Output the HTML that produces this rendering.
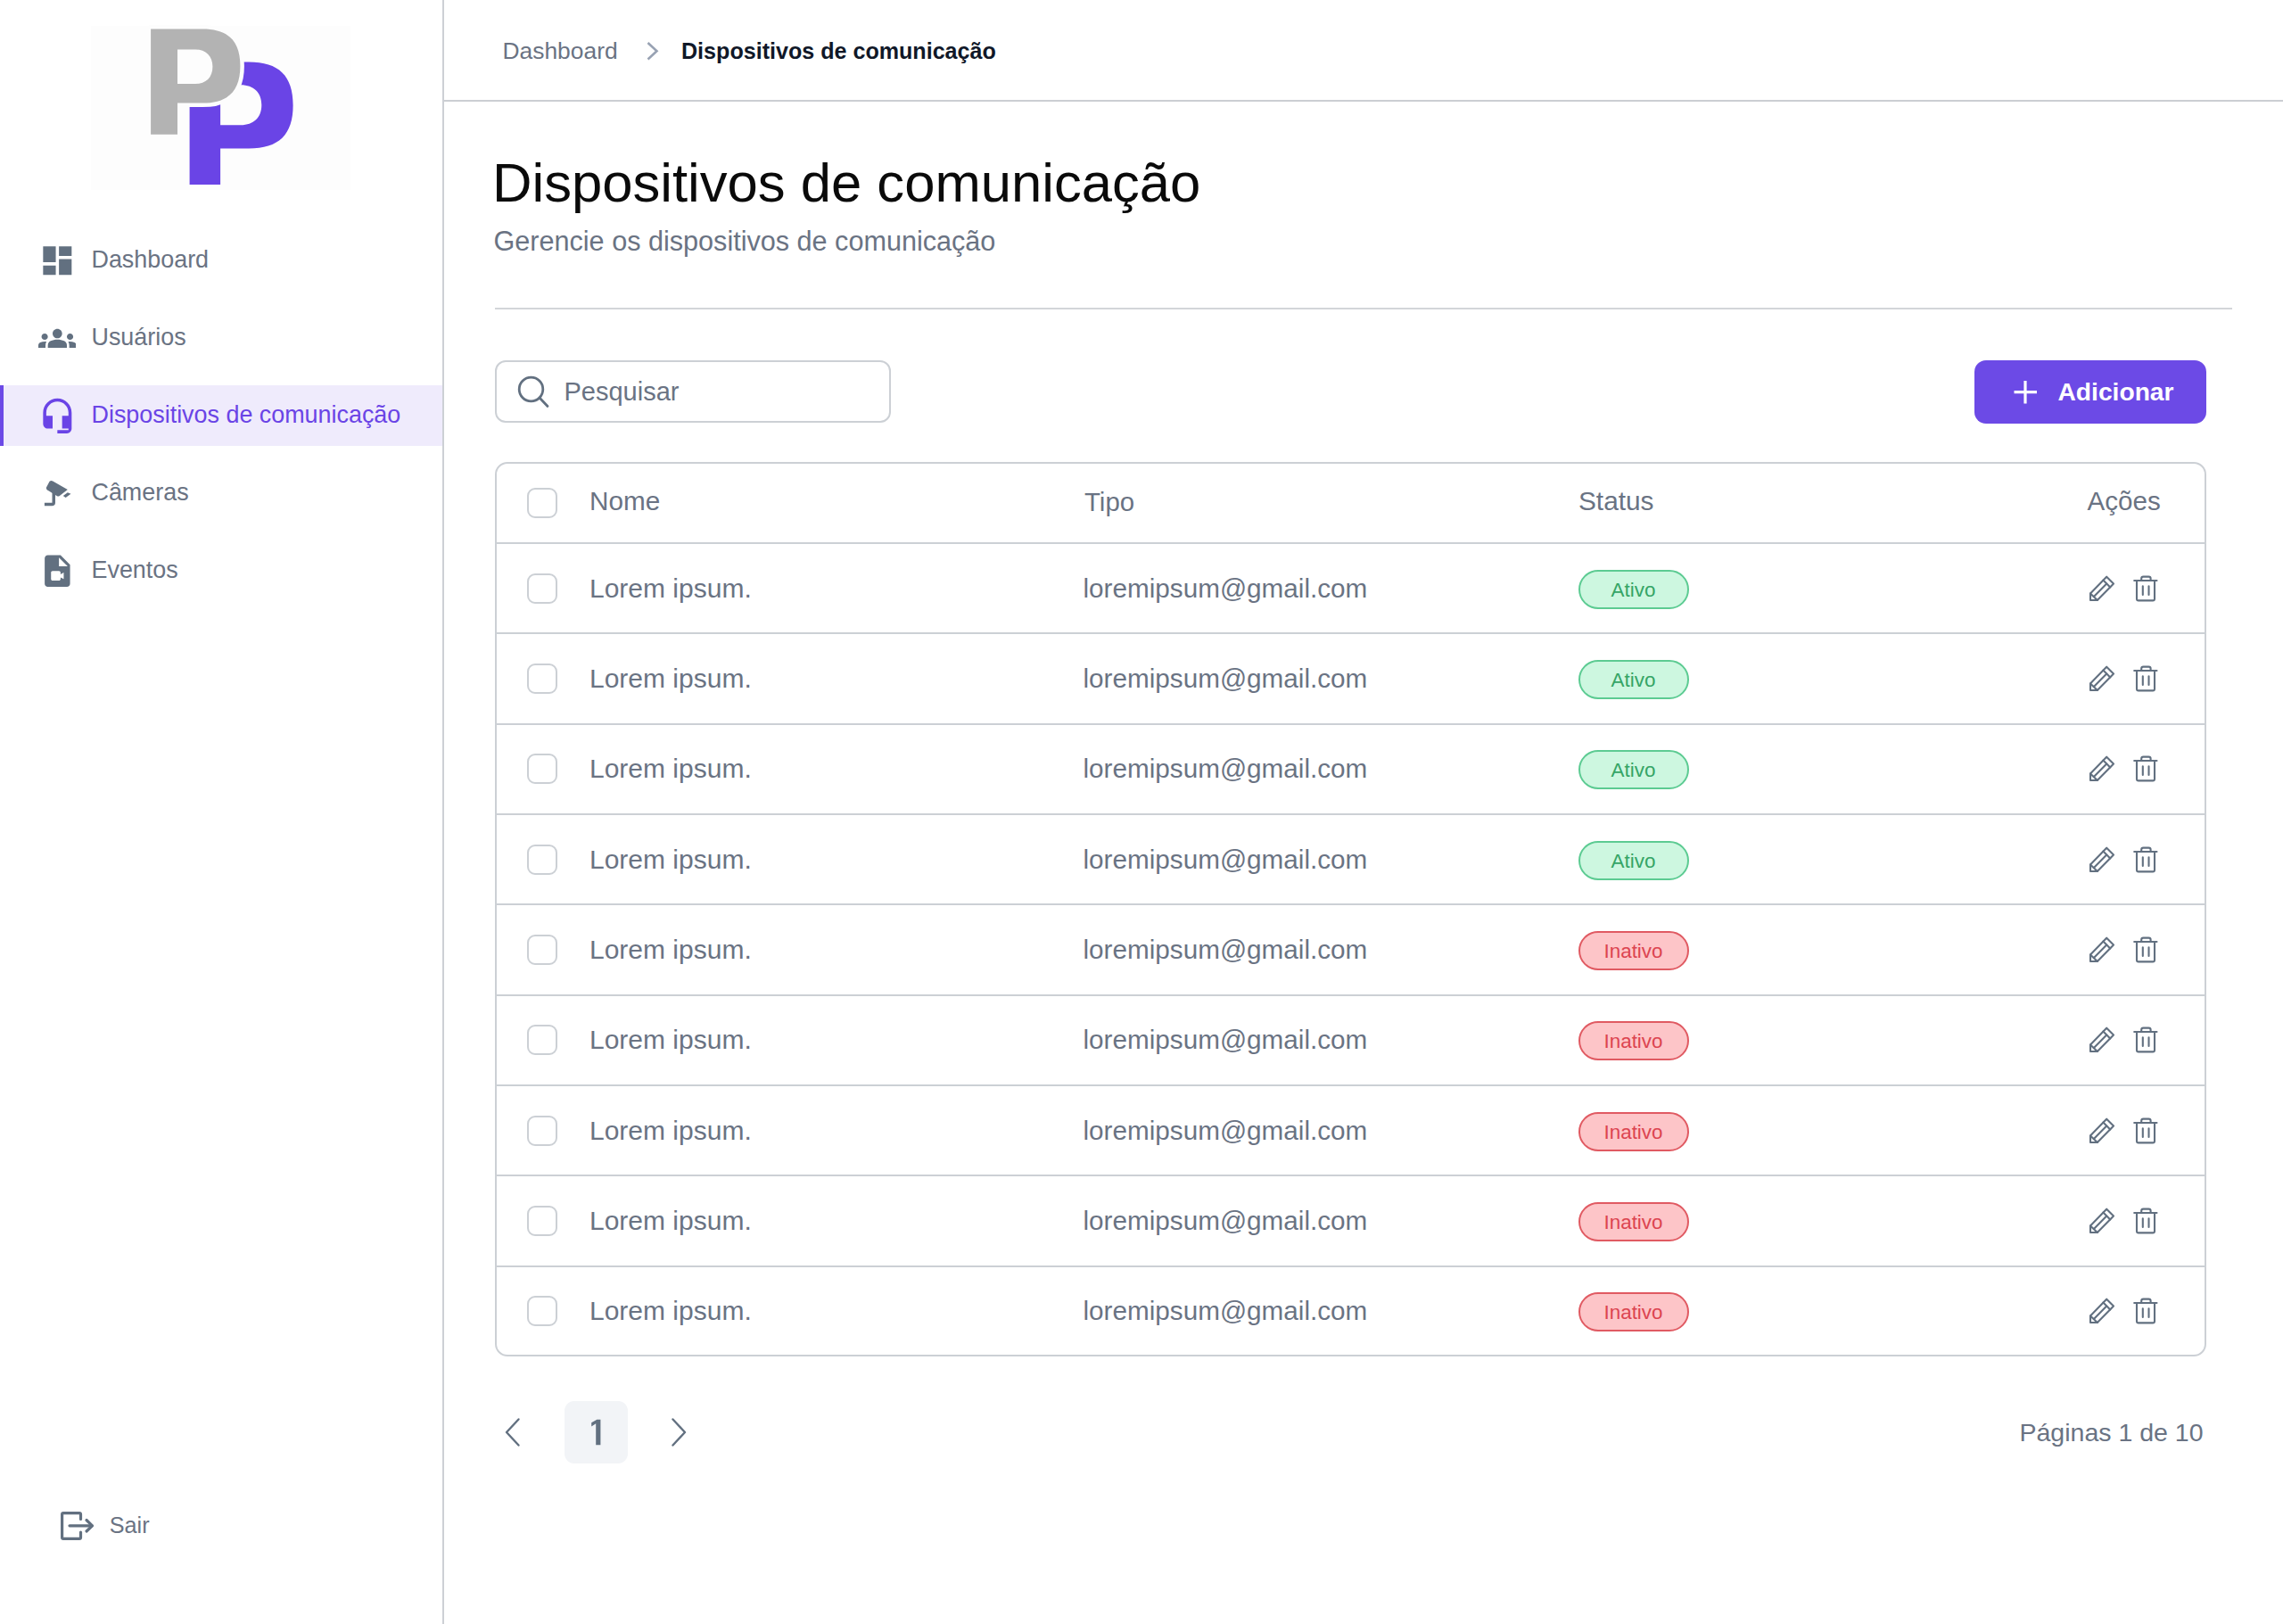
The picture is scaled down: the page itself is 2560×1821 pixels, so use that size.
<!DOCTYPE html>
<html><head><meta charset="utf-8"><title>Dispositivos de comunicação</title>
<style>
html,body{margin:0;padding:0;background:#ffffff;}
body{width:2560px;height:1821px;position:relative;overflow:hidden;font-family:'Liberation Sans', sans-serif;}
.t{position:absolute;white-space:nowrap;line-height:1;font-family:'Liberation Sans', sans-serif;}
svg{display:block}
</style></head><body>
<div style="position:absolute;left:496px;top:0;width:2px;height:1821px;background:#cdd0d5"></div>
<svg style="position:absolute;left:0;top:0" width="496" height="240" viewBox="0 0 496 240">
<rect x="102" y="29" width="291" height="184" fill="#fdfdfd"/>
<path d="M212.6 69.4 H279.0 C312.7 69.4 328.6 84.9 328.6 118.0 C328.6 151.0 312.7 166.5 279.0 166.5 H247.1 V206.9 H212.6 Z M247.1 95.2 H270.0 C284.4 95.2 293.3 103.8 293.3 117.7 C293.3 131.6 284.4 140.2 270.0 140.2 H247.1 Z" fill="#6a44e6" fill-rule="evenodd"/>
<path d="M169.1 32.6 H227.0 C255.8 32.6 269.4 45.9 269.4 74.1 C269.4 102.3 255.8 115.6 227.0 115.6 H199 V150.7 H169.1 Z" fill="#fdfdfd" stroke="#fdfdfd" stroke-width="9" stroke-linejoin="round"/>
<path d="M169.1 32.6 H227.0 C255.8 32.6 269.4 45.9 269.4 74.1 C269.4 102.3 255.8 115.6 227.0 115.6 H199 V150.7 H169.1 Z M199 55.4 H219.0 C231.0 55.4 238.4 62.7 238.4 74.7 C238.4 86.7 231.0 94.0 219.0 94.0 H199 Z" fill="#b3b3b3" fill-rule="evenodd"/>
</svg>
<div style="position:absolute;left:0;top:432px;width:496px;height:68px;background:#efebfc"></div>
<div style="position:absolute;left:0;top:432px;width:4px;height:68px;background:#6c4ae6"></div>
<svg style="position:absolute;left:42.67px;top:270.67px" width="42.67" height="42.67" viewBox="0 0 24 24" fill="#627080"><path d="M3 13h8V3H3v10zm0 8h8v-6H3v6zm10 0h8V11h-8v10zm0-18v6h8V3h-8z"/></svg>
<div class="t" style="left:102.5px;top:277.63px;font-size:26.9px;color:#6a7383;font-weight:400;">Dashboard</div>
<svg style="position:absolute;left:42.67px;top:357.77px" width="42.67" height="42.67" viewBox="0 0 24 24" fill="#627080"><path d="M12 12.75c1.63 0 3.07.39 4.24.9 1.08.48 1.76 1.56 1.76 2.73V18H6v-1.61c0-1.18.68-2.26 1.76-2.73 1.17-.52 2.61-.91 4.24-.91zM4 13c1.1 0 2-.9 2-2s-.9-2-2-2-2 .9-2 2 .9 2 2 2zm1.13 1.1c-.37-.06-.74-.1-1.13-.1-.99 0-1.930.21-2.78.58C.48 14.9 0 15.62 0 16.43V18h4.5v-1.61c0-.83.23-1.61.63-2.29zM20 13c1.1 0 2-.9 2-2s-.9-2-2-2-2 .9-2 2 .9 2 2 2zm4 3.430c0-.81-.48-1.53-1.22-1.85-.85-.37-1.79-.58-2.78-.58-.39 0-.76.04-1.13.1.4.68.63 1.46.63 2.29V18H24v-1.57zM12 6c1.66 0 3 1.34 3 3s-1.34 3-3 3-3-1.34-3-3 1.34-3 3-3z"/></svg>
<div class="t" style="left:102.5px;top:364.74px;font-size:26.9px;color:#6a7383;font-weight:400;">Usuários</div>
<svg style="position:absolute;left:42.67px;top:444.87px" width="42.67" height="42.67" viewBox="0 0 24 24" fill="#6a44e6"><path d="M12 1c-4.97 0-9 4.03-9 9v7c0 1.66 1.34 3 3 3h3v-8H5v-2c0-3.870 3.13-7 7-7s7 3.13 7 7v2h-4v8h4v1h-7v2h6c1.66 0 3-1.34 3-3V10c0-4.97-4.03-9-9-9z"/></svg>
<div class="t" style="left:102.5px;top:451.83px;font-size:26.9px;color:#6a44e6;font-weight:400;">Dispositivos de comunicação</div>
<svg style="position:absolute;left:44px;top:532px" width="42" height="40" viewBox="44 532 42 40"><g fill="#627080"><path d="M55.6 539.8 Q57.2 538.4 59.2 539.4 L75.8 549 L66.8 556 Q65.4 557 64 556.2 L53.2 549.6 Q51.2 548.2 52 546.4 Z"/><path d="M70.8 556.1 L75.8 552.2 L79.5 553.7 L73.6 557.9 Z"/></g><path d="M60.25 552 V563.5 Q60.25 565.5 58.25 565.5 H49.9" stroke="#627080" stroke-width="3.5" fill="none"/></svg>
<div class="t" style="left:102.5px;top:538.93px;font-size:26.9px;color:#6a7383;font-weight:400;">Câmeras</div>
<svg style="position:absolute;left:42.67px;top:619.07px" width="42.67" height="42.67" viewBox="0 0 24 24" fill="#627080"><path d="M14 2H6.01c-1.1 0-2 .89-2 2L4 20c0 1.1.89 2 1.99 2H18c1.1 0 2-.9 2-2V8l-6-6zM13 9V3.5L18.5 9H13zm1 5l2-1.06v4.12L14 16v1c0 .55-.45 1-1 1H9c-.55 0-1-.45-1-1v-4c0-.55.45-1 1-1h4c.55 0 1 .45 1 1v1z"/></svg>
<div class="t" style="left:102.5px;top:626.03px;font-size:26.9px;color:#6a7383;font-weight:400;">Eventos</div>
<svg style="position:absolute;left:66px;top:1693px" width="42" height="36" viewBox="0 0 42 36"><g fill="none" stroke="#627080" stroke-width="3.2" stroke-linecap="round" stroke-linejoin="round"><path d="M24.5 10.5 V5 Q24.5 3.6 23 3.6 H5 Q3.6 3.6 3.6 5 V31 Q3.6 32.4 5 32.4 H23 Q24.5 32.4 24.5 31 V25"/><path d="M12 17.8 H37"/><path d="M31 11.5 L37.5 17.8 L31 24"/></g></svg>
<div class="t" style="left:122.8px;top:1698.18px;font-size:25.2px;color:#6a7383;font-weight:400;">Sair</div>
<div style="position:absolute;left:498px;top:112px;width:2062px;height:2px;background:#cbced3"></div>
<div class="t" style="left:563.5px;top:44.06px;font-size:26.4px;color:#6a7383;font-weight:400;">Dashboard</div>
<svg style="position:absolute;left:720px;top:44px" width="24" height="26" viewBox="0 0 24 26"><path d="M6.5 4 L16.5 13.2 L6.5 22.5" fill="none" stroke="#98a2b3" stroke-width="2.6"/></svg>
<div class="t" style="left:764px;top:45.16px;font-size:25.1px;color:#101828;font-weight:700;">Dispositivos de comunicação</div>
<div class="t" style="left:552px;top:174.14px;font-size:61.6px;color:#0a0a0a;font-weight:400;">Dispositivos de comunicação</div>
<div class="t" style="left:553.5px;top:254.59px;font-size:30.6px;color:#6a7383;font-weight:400;">Gerencie os dispositivos de comunicação</div>
<div style="position:absolute;left:555px;top:345px;width:1948px;height:2px;background:#d3d5d9"></div>
<div style="position:absolute;left:555px;top:404px;width:444px;height:70px;box-sizing:border-box;border:2px solid #ccd0d5;border-radius:12px"></div>
<svg style="position:absolute;left:576px;top:418px" width="44" height="44" viewBox="0 0 44 44"><g fill="none" stroke="#627080" stroke-width="2.8"><circle cx="19.5" cy="18.5" r="13.3"/><path d="M29 28 L38 37.5" stroke-linecap="round"/></g></svg>
<div class="t" style="left:632.5px;top:425.35px;font-size:29px;color:#6a7383;font-weight:400;">Pesquisar</div>
<div style="position:absolute;left:2214px;top:404px;width:260px;height:71px;border-radius:13px;background:#6c4ae6"></div>
<svg style="position:absolute;left:2256px;top:425px" width="30" height="30" viewBox="0 0 30 30"><path d="M15 2 V27.5 M2.5 14.7 H28" stroke="#fff" stroke-width="3.2" fill="none"/></svg>
<div class="t" style="left:2307.5px;top:425.03px;font-size:28.2px;color:#ffffff;font-weight:700;">Adicionar</div>
<div style="position:absolute;left:555px;top:518px;width:1919px;height:1003px;box-sizing:border-box;border:2px solid #ccd0d5;border-radius:14px"></div>
<div style="position:absolute;left:591px;top:546.50px;width:34px;height:34px;box-sizing:border-box;border:2px solid #ccd0d5;border-radius:9px"></div>
<div class="t" style="left:661px;top:547.25px;font-size:29.7px;color:#6a7383;font-weight:400;">Nome</div>
<div class="t" style="left:1216px;top:547.51px;font-size:29.4px;color:#6a7383;font-weight:400;">Tipo</div>
<div class="t" style="left:1770px;top:547.17px;font-size:29.8px;color:#6a7383;font-weight:400;">Status</div>
<div class="t" style="left:2340.5px;top:547.34px;font-size:29.6px;color:#6a7383;font-weight:400;">Ações</div>
<div style="position:absolute;left:557px;top:608.00px;width:1915px;height:2px;background:#ccd0d5"></div>
<div style="position:absolute;left:591px;top:642.67px;width:34px;height:34px;box-sizing:border-box;border:2px solid #ccd0d5;border-radius:9px"></div>
<div class="t" style="left:661px;top:644.57px;font-size:30px;color:#6a7383;font-weight:400;">Lorem ipsum.</div>
<div class="t" style="left:1214.5px;top:644.82px;font-size:29.7px;color:#6a7383;font-weight:400;">loremipsum@gmail.com</div>
<div style="position:absolute;left:1769.5px;top:638.67px;width:124px;height:44px;box-sizing:border-box;border:2px solid #5ccb92;border-radius:22px;background:#cdf7e0;color:#35a566;font-family:'Liberation Sans', sans-serif;font-size:22.4px;line-height:42px;text-align:center">Ativo</div>
<svg style="position:absolute;left:2330px;top:639.67px" width="100" height="40" viewBox="2330 -20 100 40"><g fill="none" stroke="#627080" stroke-width="2.1" stroke-linejoin="round" stroke-linecap="round"><path d="M2344 5.4 V13 H2351.8 L2370 -5.5 L2362.2 -13.3 Z"/><path d="M2358.4 -9.4 L2366.2 -1.6"/><path d="M2362.2 -5.5 L2347.9 8.9"/><path d="M2344 5.4 L2351.8 13"/><path d="M2393.2 -9 H2418.5"/><path d="M2401.2 -9 V-11.2 Q2401.2 -13.4 2403.4 -13.4 H2409.4 Q2411.6 -13.4 2411.6 -11.2 V-9"/><path d="M2396 -9 V11.4 Q2396 13.4 2398 13.4 H2414 Q2416 13.4 2416 11.4 V-9"/><path d="M2402.8 -2.8 V6.9 M2409.5 -2.8 V6.9"/></g></svg>
<div style="position:absolute;left:557px;top:709.33px;width:1915px;height:2px;background:#ccd0d5"></div>
<div style="position:absolute;left:591px;top:744.00px;width:34px;height:34px;box-sizing:border-box;border:2px solid #ccd0d5;border-radius:9px"></div>
<div class="t" style="left:661px;top:745.90px;font-size:30px;color:#6a7383;font-weight:400;">Lorem ipsum.</div>
<div class="t" style="left:1214.5px;top:746.15px;font-size:29.7px;color:#6a7383;font-weight:400;">loremipsum@gmail.com</div>
<div style="position:absolute;left:1769.5px;top:740.00px;width:124px;height:44px;box-sizing:border-box;border:2px solid #5ccb92;border-radius:22px;background:#cdf7e0;color:#35a566;font-family:'Liberation Sans', sans-serif;font-size:22.4px;line-height:42px;text-align:center">Ativo</div>
<svg style="position:absolute;left:2330px;top:741.00px" width="100" height="40" viewBox="2330 -20 100 40"><g fill="none" stroke="#627080" stroke-width="2.1" stroke-linejoin="round" stroke-linecap="round"><path d="M2344 5.4 V13 H2351.8 L2370 -5.5 L2362.2 -13.3 Z"/><path d="M2358.4 -9.4 L2366.2 -1.6"/><path d="M2362.2 -5.5 L2347.9 8.9"/><path d="M2344 5.4 L2351.8 13"/><path d="M2393.2 -9 H2418.5"/><path d="M2401.2 -9 V-11.2 Q2401.2 -13.4 2403.4 -13.4 H2409.4 Q2411.6 -13.4 2411.6 -11.2 V-9"/><path d="M2396 -9 V11.4 Q2396 13.4 2398 13.4 H2414 Q2416 13.4 2416 11.4 V-9"/><path d="M2402.8 -2.8 V6.9 M2409.5 -2.8 V6.9"/></g></svg>
<div style="position:absolute;left:557px;top:810.66px;width:1915px;height:2px;background:#ccd0d5"></div>
<div style="position:absolute;left:591px;top:845.33px;width:34px;height:34px;box-sizing:border-box;border:2px solid #ccd0d5;border-radius:9px"></div>
<div class="t" style="left:661px;top:847.23px;font-size:30px;color:#6a7383;font-weight:400;">Lorem ipsum.</div>
<div class="t" style="left:1214.5px;top:847.48px;font-size:29.7px;color:#6a7383;font-weight:400;">loremipsum@gmail.com</div>
<div style="position:absolute;left:1769.5px;top:841.33px;width:124px;height:44px;box-sizing:border-box;border:2px solid #5ccb92;border-radius:22px;background:#cdf7e0;color:#35a566;font-family:'Liberation Sans', sans-serif;font-size:22.4px;line-height:42px;text-align:center">Ativo</div>
<svg style="position:absolute;left:2330px;top:842.33px" width="100" height="40" viewBox="2330 -20 100 40"><g fill="none" stroke="#627080" stroke-width="2.1" stroke-linejoin="round" stroke-linecap="round"><path d="M2344 5.4 V13 H2351.8 L2370 -5.5 L2362.2 -13.3 Z"/><path d="M2358.4 -9.4 L2366.2 -1.6"/><path d="M2362.2 -5.5 L2347.9 8.9"/><path d="M2344 5.4 L2351.8 13"/><path d="M2393.2 -9 H2418.5"/><path d="M2401.2 -9 V-11.2 Q2401.2 -13.4 2403.4 -13.4 H2409.4 Q2411.6 -13.4 2411.6 -11.2 V-9"/><path d="M2396 -9 V11.4 Q2396 13.4 2398 13.4 H2414 Q2416 13.4 2416 11.4 V-9"/><path d="M2402.8 -2.8 V6.9 M2409.5 -2.8 V6.9"/></g></svg>
<div style="position:absolute;left:557px;top:911.99px;width:1915px;height:2px;background:#ccd0d5"></div>
<div style="position:absolute;left:591px;top:946.66px;width:34px;height:34px;box-sizing:border-box;border:2px solid #ccd0d5;border-radius:9px"></div>
<div class="t" style="left:661px;top:948.56px;font-size:30px;color:#6a7383;font-weight:400;">Lorem ipsum.</div>
<div class="t" style="left:1214.5px;top:948.81px;font-size:29.7px;color:#6a7383;font-weight:400;">loremipsum@gmail.com</div>
<div style="position:absolute;left:1769.5px;top:942.66px;width:124px;height:44px;box-sizing:border-box;border:2px solid #5ccb92;border-radius:22px;background:#cdf7e0;color:#35a566;font-family:'Liberation Sans', sans-serif;font-size:22.4px;line-height:42px;text-align:center">Ativo</div>
<svg style="position:absolute;left:2330px;top:943.66px" width="100" height="40" viewBox="2330 -20 100 40"><g fill="none" stroke="#627080" stroke-width="2.1" stroke-linejoin="round" stroke-linecap="round"><path d="M2344 5.4 V13 H2351.8 L2370 -5.5 L2362.2 -13.3 Z"/><path d="M2358.4 -9.4 L2366.2 -1.6"/><path d="M2362.2 -5.5 L2347.9 8.9"/><path d="M2344 5.4 L2351.8 13"/><path d="M2393.2 -9 H2418.5"/><path d="M2401.2 -9 V-11.2 Q2401.2 -13.4 2403.4 -13.4 H2409.4 Q2411.6 -13.4 2411.6 -11.2 V-9"/><path d="M2396 -9 V11.4 Q2396 13.4 2398 13.4 H2414 Q2416 13.4 2416 11.4 V-9"/><path d="M2402.8 -2.8 V6.9 M2409.5 -2.8 V6.9"/></g></svg>
<div style="position:absolute;left:557px;top:1013.32px;width:1915px;height:2px;background:#ccd0d5"></div>
<div style="position:absolute;left:591px;top:1047.99px;width:34px;height:34px;box-sizing:border-box;border:2px solid #ccd0d5;border-radius:9px"></div>
<div class="t" style="left:661px;top:1049.89px;font-size:30px;color:#6a7383;font-weight:400;">Lorem ipsum.</div>
<div class="t" style="left:1214.5px;top:1050.15px;font-size:29.7px;color:#6a7383;font-weight:400;">loremipsum@gmail.com</div>
<div style="position:absolute;left:1769.5px;top:1043.99px;width:124px;height:44px;box-sizing:border-box;border:2px solid #e05a62;border-radius:22px;background:#fdc5c8;color:#dc4450;font-family:'Liberation Sans', sans-serif;font-size:22.4px;line-height:42px;text-align:center">Inativo</div>
<svg style="position:absolute;left:2330px;top:1044.99px" width="100" height="40" viewBox="2330 -20 100 40"><g fill="none" stroke="#627080" stroke-width="2.1" stroke-linejoin="round" stroke-linecap="round"><path d="M2344 5.4 V13 H2351.8 L2370 -5.5 L2362.2 -13.3 Z"/><path d="M2358.4 -9.4 L2366.2 -1.6"/><path d="M2362.2 -5.5 L2347.9 8.9"/><path d="M2344 5.4 L2351.8 13"/><path d="M2393.2 -9 H2418.5"/><path d="M2401.2 -9 V-11.2 Q2401.2 -13.4 2403.4 -13.4 H2409.4 Q2411.6 -13.4 2411.6 -11.2 V-9"/><path d="M2396 -9 V11.4 Q2396 13.4 2398 13.4 H2414 Q2416 13.4 2416 11.4 V-9"/><path d="M2402.8 -2.8 V6.9 M2409.5 -2.8 V6.9"/></g></svg>
<div style="position:absolute;left:557px;top:1114.65px;width:1915px;height:2px;background:#ccd0d5"></div>
<div style="position:absolute;left:591px;top:1149.32px;width:34px;height:34px;box-sizing:border-box;border:2px solid #ccd0d5;border-radius:9px"></div>
<div class="t" style="left:661px;top:1151.22px;font-size:30px;color:#6a7383;font-weight:400;">Lorem ipsum.</div>
<div class="t" style="left:1214.5px;top:1151.48px;font-size:29.7px;color:#6a7383;font-weight:400;">loremipsum@gmail.com</div>
<div style="position:absolute;left:1769.5px;top:1145.32px;width:124px;height:44px;box-sizing:border-box;border:2px solid #e05a62;border-radius:22px;background:#fdc5c8;color:#dc4450;font-family:'Liberation Sans', sans-serif;font-size:22.4px;line-height:42px;text-align:center">Inativo</div>
<svg style="position:absolute;left:2330px;top:1146.32px" width="100" height="40" viewBox="2330 -20 100 40"><g fill="none" stroke="#627080" stroke-width="2.1" stroke-linejoin="round" stroke-linecap="round"><path d="M2344 5.4 V13 H2351.8 L2370 -5.5 L2362.2 -13.3 Z"/><path d="M2358.4 -9.4 L2366.2 -1.6"/><path d="M2362.2 -5.5 L2347.9 8.9"/><path d="M2344 5.4 L2351.8 13"/><path d="M2393.2 -9 H2418.5"/><path d="M2401.2 -9 V-11.2 Q2401.2 -13.4 2403.4 -13.4 H2409.4 Q2411.6 -13.4 2411.6 -11.2 V-9"/><path d="M2396 -9 V11.4 Q2396 13.4 2398 13.4 H2414 Q2416 13.4 2416 11.4 V-9"/><path d="M2402.8 -2.8 V6.9 M2409.5 -2.8 V6.9"/></g></svg>
<div style="position:absolute;left:557px;top:1215.98px;width:1915px;height:2px;background:#ccd0d5"></div>
<div style="position:absolute;left:591px;top:1250.65px;width:34px;height:34px;box-sizing:border-box;border:2px solid #ccd0d5;border-radius:9px"></div>
<div class="t" style="left:661px;top:1252.55px;font-size:30px;color:#6a7383;font-weight:400;">Lorem ipsum.</div>
<div class="t" style="left:1214.5px;top:1252.81px;font-size:29.7px;color:#6a7383;font-weight:400;">loremipsum@gmail.com</div>
<div style="position:absolute;left:1769.5px;top:1246.65px;width:124px;height:44px;box-sizing:border-box;border:2px solid #e05a62;border-radius:22px;background:#fdc5c8;color:#dc4450;font-family:'Liberation Sans', sans-serif;font-size:22.4px;line-height:42px;text-align:center">Inativo</div>
<svg style="position:absolute;left:2330px;top:1247.65px" width="100" height="40" viewBox="2330 -20 100 40"><g fill="none" stroke="#627080" stroke-width="2.1" stroke-linejoin="round" stroke-linecap="round"><path d="M2344 5.4 V13 H2351.8 L2370 -5.5 L2362.2 -13.3 Z"/><path d="M2358.4 -9.4 L2366.2 -1.6"/><path d="M2362.2 -5.5 L2347.9 8.9"/><path d="M2344 5.4 L2351.8 13"/><path d="M2393.2 -9 H2418.5"/><path d="M2401.2 -9 V-11.2 Q2401.2 -13.4 2403.4 -13.4 H2409.4 Q2411.6 -13.4 2411.6 -11.2 V-9"/><path d="M2396 -9 V11.4 Q2396 13.4 2398 13.4 H2414 Q2416 13.4 2416 11.4 V-9"/><path d="M2402.8 -2.8 V6.9 M2409.5 -2.8 V6.9"/></g></svg>
<div style="position:absolute;left:557px;top:1317.31px;width:1915px;height:2px;background:#ccd0d5"></div>
<div style="position:absolute;left:591px;top:1351.98px;width:34px;height:34px;box-sizing:border-box;border:2px solid #ccd0d5;border-radius:9px"></div>
<div class="t" style="left:661px;top:1353.88px;font-size:30px;color:#6a7383;font-weight:400;">Lorem ipsum.</div>
<div class="t" style="left:1214.5px;top:1354.14px;font-size:29.7px;color:#6a7383;font-weight:400;">loremipsum@gmail.com</div>
<div style="position:absolute;left:1769.5px;top:1347.98px;width:124px;height:44px;box-sizing:border-box;border:2px solid #e05a62;border-radius:22px;background:#fdc5c8;color:#dc4450;font-family:'Liberation Sans', sans-serif;font-size:22.4px;line-height:42px;text-align:center">Inativo</div>
<svg style="position:absolute;left:2330px;top:1348.98px" width="100" height="40" viewBox="2330 -20 100 40"><g fill="none" stroke="#627080" stroke-width="2.1" stroke-linejoin="round" stroke-linecap="round"><path d="M2344 5.4 V13 H2351.8 L2370 -5.5 L2362.2 -13.3 Z"/><path d="M2358.4 -9.4 L2366.2 -1.6"/><path d="M2362.2 -5.5 L2347.9 8.9"/><path d="M2344 5.4 L2351.8 13"/><path d="M2393.2 -9 H2418.5"/><path d="M2401.2 -9 V-11.2 Q2401.2 -13.4 2403.4 -13.4 H2409.4 Q2411.6 -13.4 2411.6 -11.2 V-9"/><path d="M2396 -9 V11.4 Q2396 13.4 2398 13.4 H2414 Q2416 13.4 2416 11.4 V-9"/><path d="M2402.8 -2.8 V6.9 M2409.5 -2.8 V6.9"/></g></svg>
<div style="position:absolute;left:557px;top:1418.64px;width:1915px;height:2px;background:#ccd0d5"></div>
<div style="position:absolute;left:591px;top:1453.31px;width:34px;height:34px;box-sizing:border-box;border:2px solid #ccd0d5;border-radius:9px"></div>
<div class="t" style="left:661px;top:1455.21px;font-size:30px;color:#6a7383;font-weight:400;">Lorem ipsum.</div>
<div class="t" style="left:1214.5px;top:1455.47px;font-size:29.7px;color:#6a7383;font-weight:400;">loremipsum@gmail.com</div>
<div style="position:absolute;left:1769.5px;top:1449.31px;width:124px;height:44px;box-sizing:border-box;border:2px solid #e05a62;border-radius:22px;background:#fdc5c8;color:#dc4450;font-family:'Liberation Sans', sans-serif;font-size:22.4px;line-height:42px;text-align:center">Inativo</div>
<svg style="position:absolute;left:2330px;top:1450.31px" width="100" height="40" viewBox="2330 -20 100 40"><g fill="none" stroke="#627080" stroke-width="2.1" stroke-linejoin="round" stroke-linecap="round"><path d="M2344 5.4 V13 H2351.8 L2370 -5.5 L2362.2 -13.3 Z"/><path d="M2358.4 -9.4 L2366.2 -1.6"/><path d="M2362.2 -5.5 L2347.9 8.9"/><path d="M2344 5.4 L2351.8 13"/><path d="M2393.2 -9 H2418.5"/><path d="M2401.2 -9 V-11.2 Q2401.2 -13.4 2403.4 -13.4 H2409.4 Q2411.6 -13.4 2411.6 -11.2 V-9"/><path d="M2396 -9 V11.4 Q2396 13.4 2398 13.4 H2414 Q2416 13.4 2416 11.4 V-9"/><path d="M2402.8 -2.8 V6.9 M2409.5 -2.8 V6.9"/></g></svg>
<svg style="position:absolute;left:560px;top:1588px" width="30" height="36" viewBox="0 0 30 36"><path d="M21.5 3.5 L8 18 L21.5 32.5" fill="none" stroke="#627080" stroke-width="2.4" stroke-linecap="round" stroke-linejoin="round"/></svg>
<div style="position:absolute;left:633px;top:1570.5px;width:71px;height:70px;border-radius:11px;background:#f2f4f7"></div>
<svg style="position:absolute;left:655px;top:1585px" width="30" height="40" viewBox="655 1585 30 40"><path d="M668.2 1620.3 V1596.2 L663.2 1599.6 V1595.2 L669.4 1591.8 H673.4 V1620.3 Z" fill="#627080"/></svg>
<svg style="position:absolute;left:746px;top:1588px" width="30" height="36" viewBox="0 0 30 36"><path d="M8.5 3.5 L22 18 L8.5 32.5" fill="none" stroke="#627080" stroke-width="2.4" stroke-linecap="round" stroke-linejoin="round"/></svg>
<div class="t" style="left:2264.5px;top:1592.08px;font-size:28.5px;color:#6a7383;font-weight:400;">Páginas 1 de 10</div>

</body></html>
